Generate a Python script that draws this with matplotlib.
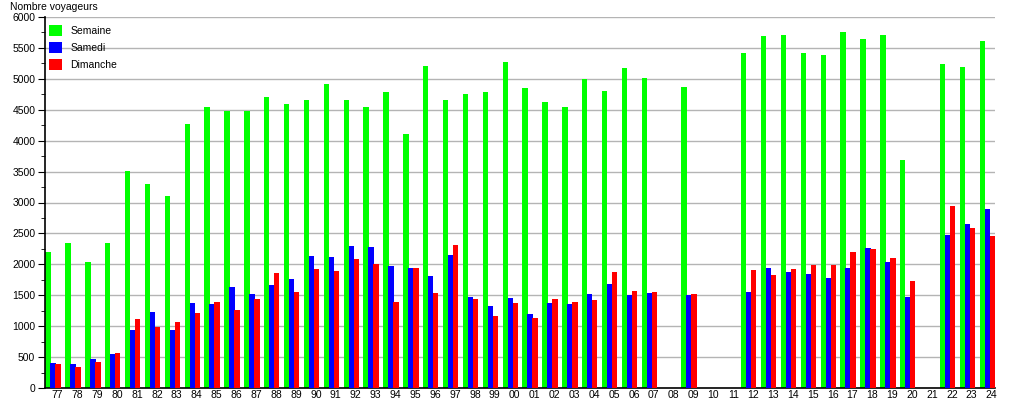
import numpy as np
import matplotlib
matplotlib.use("Agg")
import matplotlib.pyplot as plt
from matplotlib.ticker import MultipleLocator

plt.rcParams['font.family'] = ['Liberation Sans', 'DejaVu Sans']

annees = ["77", "78", "79", "80", "81", "82", "83", "84", "85", "86", "87", "88",
          "89", "90", "91", "92", "93", "94", "95", "96", "97", "98", "99", "00",
          "01", "02", "03", "04", "05", "06", "07", "08", "09", "10", "11", "12",
          "13", "14", "15", "16", "17", "18", "19", "20", "21", "22", "23", "24"]

semaine = [2200, 2350, 2040, 2350, 3510, 3300, 3105, 4270, 4545, 4485, 4485, 4710,
           4600, 4665, 4910, 4650, 4540, 4795, 4100, 5215, 4650, 4750, 4780, 5265,
           4845, 4620, 4540, 4990, 4810, 5170, 5020, 0, 4875, 0, 0, 5420,
           5690, 5710, 5420, 5385, 5760, 5645, 5710, 3690, 0, 5240, 5190, 5610]

samedi = [405, 390, 470, 550, 940, 1230, 940, 1375, 1360, 1635, 1520, 1665,
          1760, 2135, 2120, 2295, 2280, 1975, 1940, 1810, 2150, 1470, 1325, 1455,
          1195, 1375, 1360, 1520, 1680, 1505, 1535, 0, 1505, 0, 0, 1550,
          1940, 1875, 1845, 1780, 1940, 2265, 2035, 1470, 0, 2475, 2650, 2895]

dimanche = [390, 345, 420, 565, 1115, 990, 1065, 1215, 1390, 1260, 1440, 1860,
            1550, 1925, 1890, 2085, 2005, 1390, 1940, 1535, 2310, 1440, 1165, 1375,
            1130, 1440, 1390, 1425, 1875, 1570, 1550, 0, 1520, 0, 0, 1910,
            1825, 1925, 1995, 1995, 2200, 2250, 2100, 1730, 0, 2945, 2590, 2460]

x = np.arange(len(annees))
w = 0.27

fig = plt.figure(figsize=(10.15, 4.0), dpi=100)
ax = fig.add_axes([45 / 1015, 12 / 400, 950 / 1015, 371 / 400])

ax.bar(x - 0.47, semaine, w, color='#00ff00', label='Semaine', zorder=2)
ax.bar(x - 0.22, samedi, w, color='#0000ff', label='Samedi', zorder=3)
ax.bar(x + 0.03, dimanche, w, color='#ff0000', label='Dimanche', zorder=4)

ax.set_xlim(-0.63, 47.17)
ax.set_ylim(0, 6000)
ax.set_xticks(x)
ax.set_xticklabels(annees, fontsize=7.5)
ax.tick_params(axis='x', length=0, pad=1.5)
ax.yaxis.set_major_locator(MultipleLocator(500))
ax.yaxis.set_minor_locator(MultipleLocator(250))
ax.tick_params(axis='y', which='major', length=5, labelsize=7.5, pad=2)
ax.tick_params(axis='y', which='minor', length=3)
ax.grid(axis='y', color='#b4b4b4', linewidth=1, zorder=0)
ax.set_axisbelow(True)

for s in ['top', 'right']:
    ax.spines[s].set_visible(False)
ax.spines['left'].set_linewidth(1.2)
ax.spines['bottom'].set_linewidth(1.2)

fig.text(10 / 1015, 1 - 7 / 400, "Nombre voyageurs", fontsize=7.5, va='center', ha='left')

ax.legend(loc='upper left', bbox_to_anchor=(0.0, 1 - 4 / 371), frameon=False,
          fontsize=7.5, handlelength=1.3, handleheight=1.3, handletextpad=0.8,
          labelspacing=0.55, borderaxespad=0.0, borderpad=0.35)

fig.savefig("out.png", dpi=100)
